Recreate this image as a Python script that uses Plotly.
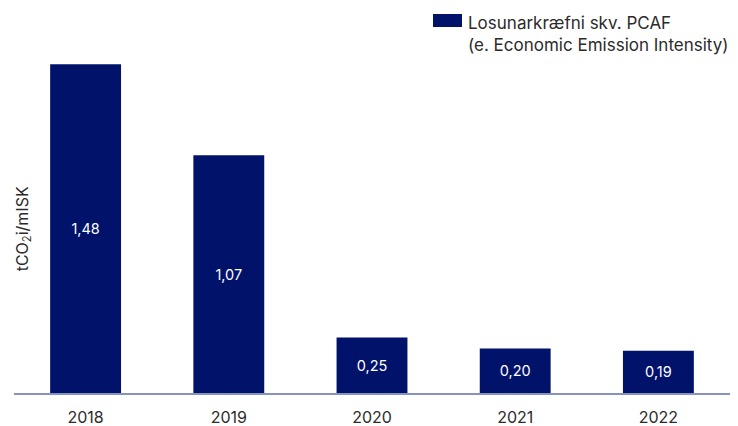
import plotly.graph_objects as go

years = ["2018", "2019", "2020", "2021", "2022"]
intensity = [1.48, 1.07, 0.25, 0.20, 0.19]
series_name = "Losunarkræfni skv. PCAF"
series_sub = "(e. Economic Emission Intensity)"
y_title = "tCO<sub>2</sub>i/mISK"

BAR = "#00126A"
AXIS = "#8592C2"
FONT = "Inter, Liberation Sans, Arial, sans-serif"
TXT = "#2b2b2b"

# page body has an 8px default margin; plot area target: x 14..730, y 20..393
OFF = 8
PL, PR, PT, PB = 14, 730, 20, 393
W, H = 738, 426
PW, PH = PR - PL, PB - PT

fig = go.Figure()
fig.add_trace(go.Bar(
    x=years, y=intensity, name=series_name,
    marker=dict(color=BAR, line=dict(width=0)),
    texttemplate="%{y:.2f}", textposition="inside", insidetextanchor="middle",
    textfont=dict(color="white", size=14.5, family=FONT),
    showlegend=False,
))

fig.update_layout(
    width=W, height=H,
    margin=dict(l=PL - OFF, r=W - (PR - OFF), t=PT - OFF, b=H - (PB - OFF)),
    plot_bgcolor="white", paper_bgcolor="white",
    separators=", ",
    bargap=0.505,
    font=dict(family=FONT, color=TXT),
    xaxis=dict(showline=True, linecolor=AXIS, linewidth=2, ticks="",
               tickfont=dict(size=16, color=TXT), showgrid=False,
               zeroline=False, automargin=False, ticklabelstandoff=9),
    yaxis=dict(range=[0, PH / 222.1], visible=False, showgrid=False,
               zeroline=False, automargin=False),
    uniformtext=dict(minsize=10, mode="show"),
)

# y-axis title
fig.add_annotation(text=y_title, xref="paper", yref="y", x=(23 - PL) / PW, y=0.737,
                   textangle=-90, showarrow=False, xanchor="center", yanchor="middle",
                   font=dict(size=16, color=TXT, family=FONT))

# legend (swatch + two text lines)
fig.add_shape(type="rect", xref="paper", yref="paper",
              x0=(433 - PL) / PW, x1=(462 - PL) / PW,
              y0=(PB - 27) / PH, y1=(PB - 14) / PH,
              fillcolor=BAR, line=dict(width=0))
fig.add_annotation(text=series_name, xref="paper", yref="paper",
                   x=(466 - PL) / PW, y=(PB - 23) / PH, xanchor="left", yanchor="middle",
                   showarrow=False, font=dict(size=17, color=TXT, family=FONT))
fig.add_annotation(text=series_sub, xref="paper", yref="paper",
                   x=(466 - PL) / PW, y=(PB - 45) / PH, xanchor="left", yanchor="middle",
                   showarrow=False, font=dict(size=17, color=TXT, family=FONT))

fig.write_html("out.html")
